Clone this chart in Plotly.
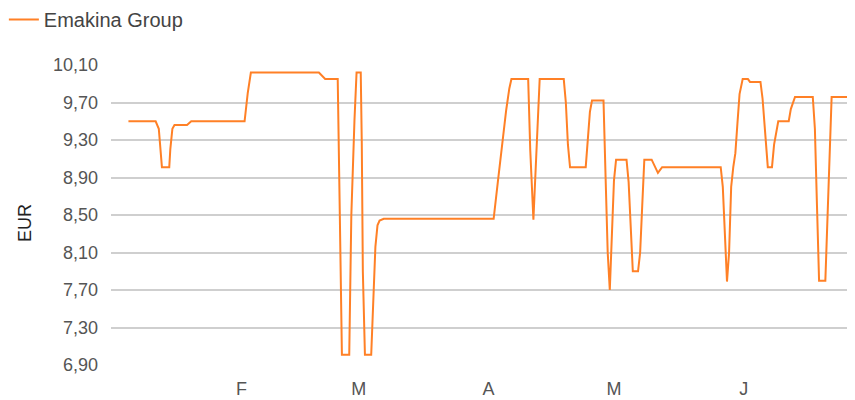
import plotly.graph_objects as go

# ---- data ----
series_name = "Emakina Group"
dates = [
    "2017-01-05 00:00", "2017-01-11 12:00", "2017-01-12 06:00", "2017-01-12 12:00",
    "2017-01-13 00:00", "2017-01-14 18:00", "2017-01-15 00:00", "2017-01-15 12:00",
    "2017-01-16 00:00", "2017-01-19 00:00", "2017-01-20 00:00", "2017-02-01 18:00",
    "2017-02-02 12:00", "2017-02-03 06:00", "2017-02-19 12:00", "2017-02-21 00:00",
    "2017-02-24 00:00", "2017-02-24 12:00", "2017-02-25 00:00", "2017-02-26 18:00",
    "2017-02-27 06:00", "2017-02-28 00:00", "2017-02-28 12:00", "2017-03-01 12:00",
    "2017-03-01 18:00", "2017-03-02 00:00", "2017-03-02 12:00", "2017-03-04 00:00",
    "2017-03-04 12:00", "2017-03-05 00:00", "2017-03-05 12:00", "2017-03-06 00:00",
    "2017-03-07 00:00", "2017-04-02 06:00", "2017-04-03 06:00", "2017-04-04 06:00",
    "2017-04-05 06:00", "2017-04-06 00:00", "2017-04-06 12:00", "2017-04-10 12:00",
    "2017-04-11 00:00", "2017-04-11 18:00", "2017-04-12 12:00", "2017-04-13 06:00",
    "2017-04-19 00:00", "2017-04-19 12:00", "2017-04-20 00:00", "2017-04-20 12:00",
    "2017-04-24 06:00", "2017-04-24 18:00", "2017-04-25 06:00", "2017-04-25 18:00",
    "2017-04-28 12:00", "2017-04-29 00:00", "2017-04-29 12:00", "2017-04-30 00:00",
    "2017-04-30 12:00", "2017-05-01 00:00", "2017-05-01 12:00", "2017-05-04 00:00",
    "2017-05-04 12:00", "2017-05-05 00:00", "2017-05-05 12:00", "2017-05-06 18:00",
    "2017-05-07 06:00", "2017-05-07 18:00", "2017-05-08 06:00", "2017-05-10 00:00",
    "2017-05-11 12:00", "2017-05-12 12:00", "2017-05-26 12:00", "2017-05-27 00:00",
    "2017-05-27 12:00", "2017-05-28 00:00", "2017-05-28 12:00", "2017-05-29 00:00",
    "2017-05-29 12:00", "2017-05-30 00:00", "2017-05-30 12:00", "2017-05-31 00:00",
    "2017-05-31 18:00", "2017-06-02 00:00", "2017-06-02 12:00", "2017-06-05 00:00",
    "2017-06-05 12:00", "2017-06-06 00:00", "2017-06-06 18:00", "2017-06-07 18:00",
    "2017-06-08 06:00", "2017-06-09 06:00", "2017-06-11 18:00", "2017-06-12 06:00",
    "2017-06-13 06:00", "2017-06-17 12:00", "2017-06-18 00:00", "2017-06-18 12:00",
    "2017-06-19 00:00", "2017-06-20 12:00", "2017-06-21 00:00", "2017-06-21 12:00",
    "2017-06-22 00:00", "2017-06-28 00:00",
]
prices = [
    9.50, 9.50, 9.42, 9.26,
    9.01, 9.01, 9.20, 9.42,
    9.46, 9.46, 9.50, 9.50,
    9.80, 10.02, 10.02, 9.95,
    9.95, 8.50, 7.01, 7.01,
    8.50, 9.51, 10.02, 10.02,
    9.26, 7.90, 7.01, 7.01,
    7.71, 8.16, 8.39, 8.44,
    8.46, 8.46, 8.85, 9.25,
    9.62, 9.85, 9.95, 9.95,
    9.19, 8.45, 9.21, 9.95,
    9.95, 9.70, 9.25, 9.01,
    9.01, 9.35, 9.60, 9.72,
    9.72, 8.90, 8.10, 7.70,
    8.39, 8.87, 9.09, 9.09,
    8.85, 8.35, 7.90, 7.90,
    8.10, 8.60, 9.09, 9.09,
    8.95, 9.01, 9.01, 8.80,
    8.20, 7.79, 8.10, 8.80,
    9.01, 9.16, 9.48, 9.79,
    9.95, 9.95, 9.92, 9.92,
    9.74, 9.44, 9.01, 9.01,
    9.25, 9.50, 9.50, 9.63,
    9.76, 9.76, 9.42, 8.60,
    7.80, 7.80, 8.40, 9.20,
    9.76, 9.76,
]
month_ticks = ["2017-02-01", "2017-03-01", "2017-04-01", "2017-05-01", "2017-06-01"]
month_labels = ["F", "M", "A", "M", "J"]
x_range = ["2016-12-31 20:00", "2017-06-27 14:00"]
y_range = [6.90, 10.10]
y_ticks = [6.90, 7.30, 7.70, 8.10, 8.50, 8.90, 9.30, 9.70, 10.10]
y_title = "EUR"

FONT = "Liberation Sans, Arial, sans-serif"
LINE = "rgb(255,128,38)"
GRID = "#cfcfcf"

fig = go.Figure()
fig.add_trace(go.Scatter(
    x=dates, y=prices, mode="lines", name=series_name,
    line=dict(color=LINE, width=2),
    showlegend=True,
))

# the page body has an 8px default margin, so the figure is 8px smaller
fig.update_layout(
    width=847, height=392,
    margin=dict(l=103, r=0, t=57, b=35, autoexpand=False),
    paper_bgcolor="white", plot_bgcolor="white",
    separators=",.",
    showlegend=True,
    legend=dict(
        x=-0.144, y=1.2167, xref="paper", yref="paper",
        xanchor="left", yanchor="top",
        font=dict(family=FONT, size=20, color="#444"),
        bgcolor="rgba(0,0,0,0)",
    ),
    xaxis=dict(
        type="date", range=x_range,
        tickmode="array", tickvals=month_ticks, ticktext=month_labels,
        showgrid=False, zeroline=False,
        showline=False, ticks="",
        ticklabelstandoff=11,
        tickfont=dict(family=FONT, size=18, color="#555"),
        automargin=False,
    ),
    yaxis=dict(
        range=y_range, tickmode="array", tickvals=y_ticks,
        tickformat=".2f",
        showgrid=True, gridcolor=GRID, gridwidth=1.5,
        zeroline=False, showline=False, ticks="",
        ticklabelstandoff=12,
        tickfont=dict(family=FONT, size=18, color="#555"),
        automargin=False,
    ),
    annotations=[dict(
        text=y_title, xref="paper", yref="paper",
        x=-0.1156, y=0.473, showarrow=False, textangle=-90,
        font=dict(family=FONT, size=18, color="#222"),
        xanchor="center", yanchor="middle",
    )],
)

fig.write_html("out.html")
